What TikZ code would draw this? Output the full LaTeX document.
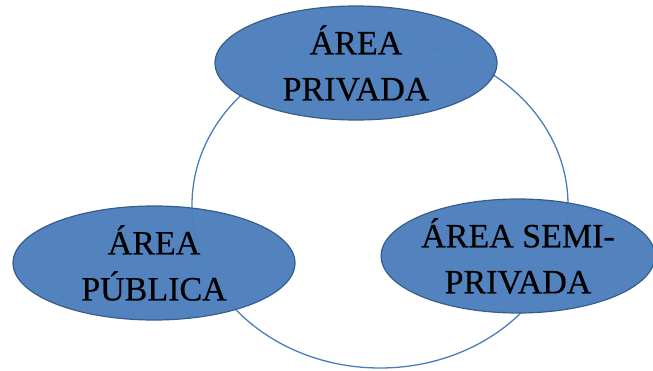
\documentclass[tikz,border=0pt]{standalone}
\usepackage{fontspec}
\setmainfont{Liberation Serif}[FakeBold=0.5]
\usetikzlibrary{shapes.geometric}
\definecolor{areafill}{HTML}{4F81BD}
\definecolor{areaedge}{HTML}{385D8A}
\definecolor{ringline}{HTML}{4A7EBB}
\begin{document}
\begin{tikzpicture}[x=1pt, y=-1pt,
    area/.style={ellipse, draw=areaedge, line width=1.2pt, fill=areafill,
        fill opacity=0.98, text opacity=1, inner sep=0pt, align=center,
        minimum width=282pt, minimum height=114pt,
        font=\fontsize{34}{46}\selectfont},
    ring/.style={draw=ringline, line width=1.3pt}]
    \useasboundingbox (0,0) rectangle (653,371);

    % Draw the ring behind the areas
    \coordinate (centre) at (380,205);
    \draw[ring] (centre) ellipse [x radius=188, y radius=163];

    % Place the three areas
    \node[area] (privada) at (356,63) {ÁREA\\PRIVADA};
    \node[area] (publica) at (154,263) {ÁREA\\PÚBLICA};
    \node[area, minimum width=272pt] (semi) at (518,256) {ÁREA SEMI-\\PRIVADA};
\end{tikzpicture}
\end{document}
